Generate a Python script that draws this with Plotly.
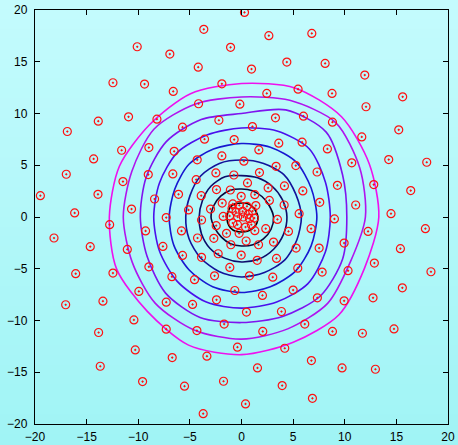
import math
import plotly.graph_objects as go

# ---------------- data: scattered sample points ----------------
ul_x = [-3.65,-10.1,-6.94,-4.19,-12.45,-9.39,-6.61,-1.9,-4.16,-13.87,-10.94,-8.19,-5.71,-2.19,
        -16.87,-3.58,-8.97,-11.61,-6.52,-1.9,-14.32,-4.29,-16.97,-9.03,-6.65,-2.48,-11.48,-4.39,
        -2.42,-19.48,-13.9,-6.1,-3.9,-8.42,-1.87,-16.16,-10.65,-3.0,-5.13,-7.29,-3.87,-1.77]
ul_y = [18.13,16.45,15.74,14.48,12.97,12.84,12.13,12.87,10.94,9.26,9.68,9.45,8.68,9.35,
        8.26,7.52,6.71,6.45,6.35,5.9,5.61,5.52,4.13,4.1,4.16,4.26,3.42,3.61,
        2.65,2.06,2.19,2.19,2.06,1.74,1.35,0.39,0.77,0.77,0.68,-0.06,-0.29,0.06]

ur_x = [0.29,2.65,6.81,-1.06,4.39,8.1,0.97,11.94,5.48,8.77,2.45,15.61,-0.16,12.06,6.0,3.29,
        8.81,15.23,1.06,11.65,-0.71,3.61,5.87,8.32,1.68,14.26,17.94,10.68,0.23,3.35,5.26,7.32,
        1.74,-0.74,0.58,12.81,4.16,2.58,5.94,9.29,-1.08,16.39,-0.03,1.29,2.7,4.13,7.58,11.06,
        14.48,-0.84,1.39,5.58,9.0,3.48]
ur_y = [19.77,17.52,17.74,16.39,14.97,14.84,14.29,13.71,12.35,11.94,11.94,11.61,10.9,10.65,9.74,9.58,
        9.16,8.42,8.74,7.74,7.48,7.13,7.23,6.58,6.48,5.55,5.29,5.23,5.39,4.9,4.97,4.35,
        4.29,4.06,3.29,3.13,3.0,2.81,2.52,3.06,2.61,2.55,2.0,2.16,1.6,1.16,1.42,1.16,
        0.32,1.26,1.1,0.32,-0.19,-0.23]

ll_x = [-18.16,-14.65,-12.77,-9.29,-5.81,-2.45,-1.45,-2.68,-4.26,-11.06,-7.61,-5.71,-3.87,-2.26,
        -16.06,-12.45,-8.97,-6.74,-4.55,-2.61,-17.03,-13.42,-9.94,-7.29,-4.74,-2.42,-10.42,-13.84,
        -7.29,-4.32,-1.68,-10.29,-6.71,-3.35,-13.68,-9.58,-5.52,-1.74,-3.71]
ll_y = [-2.03,-2.87,-0.74,-1.35,-1.35,-0.84,-1.58,-2.06,-2.03,-3.13,-2.84,-3.71,-3.9,-3.55,
        -5.48,-5.42,-4.81,-5.77,-6.06,-5.68,-8.48,-8.13,-7.19,-8.23,-8.45,-8.0,-9.94,-11.16,
        -10.84,-10.97,-10.35,-12.84,-13.58,-13.45,-14.42,-15.9,-16.35,-15.87,-19.0]

lr_x = [17.81,12.26,6.74,4.55,2.35,1.29,0.39,-0.39,-0.23,15.39,9.94,7.52,5.29,3.1,1.65,0.45,
        -1.03,-0.03,1.52,3.39,18.35,12.87,10.32,7.81,5.45,3.03,0.77,-1.13,15.58,12.74,9.94,7.35,
        5.0,2.03,-0.65,0.48,3.87,6.13,8.81,11.71,14.77,2.06,-0.39,4.19,6.77,9.74,12.97,1.55,
        3.94,6.87,0.39]
lr_y = [-1.13,-1.39,-1.13,-1.39,-1.13,-1.32,-0.97,-0.74,-1.58,-3.06,-2.52,-3.0,-3.0,-2.42,-2.68,-2.32,
        -2.68,-3.68,-4.19,-4.0,-5.29,-4.45,-5.19,-5.32,-4.94,-5.81,-5.68,-4.87,-6.84,-7.81,-8.1,-7.81,
        -7.06,-7.58,-7.1,-9.19,-9.13,-10.35,-11.06,-11.23,-10.81,-11.06,-12.58,-12.68,-13.87,-14.58,-14.71,-14.58,
        -16.29,-17.52,-18.06]

core_x = [-0.92,-0.21,0.53,1.08,-0.53,0.11,0.66,-1.15,-0.37,0.18,0.76,1.24,-0.85,0.95]
core_y = [0.81,1.13,1.03,0.58,0.48,0.55,0.26,0.1,0.0,0.0,-0.16,-0.1,-0.58,-0.74]

# ---------------- data: contour lines (radius at 16 directions) ----------------
contour_angles_deg = [0, 22.5, 45, 67.5, 90, 112.5, 135, 157.5, 180, 202.5, 225, 247.5, 270, 292.5, 315, 337.5]
contour_radii = [
    [1.6, 1.5, 1.45, 1.4, 1.35, 1.4, 1.45, 1.4, 1.4, 1.45, 1.5, 1.5, 1.45, 1.5, 1.55, 1.6],
    [3.1, 2.9, 2.8, 2.75, 2.7, 2.8, 2.85, 2.9, 2.95, 2.8, 2.75, 2.8, 2.8, 2.9, 3.0, 3.1],
    [4.4, 4.3, 4.2, 4.1, 4.0, 4.2, 4.2, 4.1, 4.1, 4.2, 4.3, 4.3, 4.35, 4.4, 4.4, 4.4],
    [5.8, 5.7, 5.8, 5.6, 5.5, 5.6, 5.6, 5.4, 5.4, 5.5, 5.6, 5.7, 5.8, 5.8, 5.9, 5.8],
    [7.3, 7.3, 7.5, 7.3, 7.1, 7.1, 7.2, 7.0, 7.0, 7.1, 7.2, 7.3, 7.3, 7.3, 7.4, 7.3],
    [8.6, 8.8, 9.3, 9.0, 8.6, 8.6, 8.8, 8.6, 8.5, 8.6, 8.8, 8.9, 8.8, 8.9, 9.1, 8.8],
    [10.2, 10.6, 11.6, 11.2, 10.0, 10.2, 10.3, 10.0, 9.8, 9.9, 10.4, 10.5, 10.2, 10.4, 10.8, 10.6],
    [12.0, 12.4, 12.9, 12.2, 11.6, 11.8, 12.0, 11.5, 11.45, 11.45, 11.8, 11.85, 11.8, 11.7, 11.8, 11.4],
    [13.3, 13.4, 13.7, 13.5, 12.9, 12.9, 12.6, 12.8, 12.8, 13.1, 12.9, 13.4, 13.3, 13.1, 13.35, 12.9],
]
contour_colors = ["#000000", "#08083c", "#0c0c6a", "#12129a", "#1818d0",
                  "#4a10ec", "#7e14ee", "#b014ee", "#ee10ee"]

# ---------------- figure ----------------
W, H = 458, 445
ML, MR, MT, MB = 35, 10, 10, 21
PW, PH = W - ML - MR, H - MT - MB

fig = go.Figure()

for radii, col in zip(contour_radii, contour_colors):
    cx = [r * math.cos(math.radians(a)) for r, a in zip(radii, contour_angles_deg)]
    cy = [r * math.sin(math.radians(a)) for r, a in zip(radii, contour_angles_deg)]
    cx.append(cx[0]); cy.append(cy[0])
    fig.add_trace(go.Scatter(x=cx, y=cy, mode="lines",
                             line=dict(color=col, width=1.6, shape="spline", smoothing=0.8),
                             hoverinfo="skip"))

px_all = ul_x + ur_x + ll_x + lr_x + core_x
py_all = ul_y + ur_y + ll_y + lr_y + core_y
fig.add_trace(go.Scatter(x=px_all, y=py_all, mode="markers",
                         marker=dict(symbol="circle-open-dot", size=8, color="#ff1010",
                                     line=dict(width=1.2, color="#ff1010"))))

# gradient background strips over the whole page
top_rgb = (196, 251, 253)
bot_rgb = (160, 244, 245)
N = 45
shapes = []
x0p, x1p = -ML / PW, (W - ML) / PW
for i in range(N):
    t0 = i / N
    t1 = (i + 1) / N
    py0 = t0 * H
    py1 = t1 * H
    y_top = (H - MB - py0) / PH
    y_bot = (H - MB - py1) / PH
    tm = (t0 + t1) / 2
    c = tuple(round(top_rgb[k] + (bot_rgb[k] - top_rgb[k]) * tm) for k in range(3))
    shapes.append(dict(type="rect", xref="paper", yref="paper", x0=x0p, x1=x1p,
                       y0=y_bot - 0.002, y1=y_top + 0.002, fillcolor="rgb(%d,%d,%d)" % c,
                       line=dict(width=0), layer="below"))

axis_common = dict(range=[-20, 20], dtick=5, ticks="inside", ticklen=5, tickwidth=1,
                   tickcolor="black", showline=True, linecolor="black", linewidth=1.3,
                   mirror="ticks", showgrid=False, zeroline=False, automargin=False,
                   tickfont=dict(family="Liberation Sans, Arial, sans-serif", size=12, color="black"))

fig.update_layout(width=W, height=H, margin=dict(l=ML, r=MR, t=MT, b=MB, autoexpand=False),
                  showlegend=False, paper_bgcolor="rgb(178,247,249)",
                  plot_bgcolor="rgba(0,0,0,0)", shapes=shapes,
                  xaxis=dict(**axis_common, ticklabelstandoff=1),
                  yaxis=dict(**axis_common, ticklabelstandoff=4))

fig.write_html("out.html")
